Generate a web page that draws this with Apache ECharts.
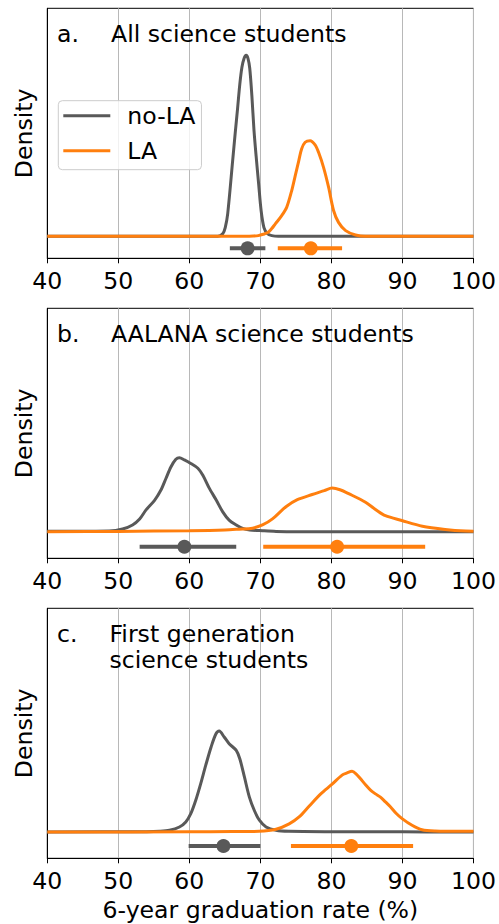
<!DOCTYPE html>
<html>
<head>
<meta charset="utf-8">
<script src="https://cdn.jsdelivr.net/npm/echarts@6/dist/echarts.min.js"></script>
<style>html,body{margin:0;padding:0;background:#fff}#c{width:499px;height:924px}</style>
</head>
<body>
<div id="c"></div>
<script>
// ---------- data ----------
const xTicks = [40, 50, 60, 70, 80, 90, 100];
const panelLetters = ['a.', 'b.', 'c.'];
const panelTitles = [['All science students'], ['AALANA science students'], ['First generation', 'science students']];
const seriesNames = ['no-LA', 'LA'];
const xLabel = '6-year graduation rate (%)';
const yLabel = 'Density';

// density curves [rate, density]
const aNoLA = [[40,0],[64,0],[64.7,0.005],[65.05,0.017],[65.4,0.044],[66.1,0.147],[66.45,0.199],[66.8,0.249],[67.1,0.294],[67.4,0.327],[67.7,0.344],[68.0,0.350],[68.25,0.344],[68.5,0.325],[68.8,0.272],[69.1,0.205],[69.4,0.155],[69.75,0.102],[70.1,0.050],[70.5,0.017],[71.0,0.005],[71.6,0.0014],[72.5,0],[100,0]];
const aLA = [[40,0],[68,0],[69,0.0005],[69.7,0.0014],[70.4,0.004],[71.1,0.0077],[71.6,0.015],[72.1,0.024],[73.0,0.040],[73.7,0.056],[74.4,0.088],[74.9,0.117],[75.4,0.146],[75.8,0.169],[76.3,0.182],[77.0,0.185],[77.7,0.177],[78.2,0.162],[78.9,0.133],[79.6,0.095],[80.3,0.050],[81.0,0.027],[82.0,0.011],[83.4,0.0025],[84.8,0],[100,0]];
const bNoLA = [[40,0.0006],[45,0.0008],[48.7,0.0011],[50.6,0.0042],[52.0,0.0105],[53.0,0.0198],[53.9,0.034],[55.1,0.049],[56.0,0.065],[56.7,0.083],[57.4,0.101],[58.1,0.113],[58.6,0.1155],[59.3,0.112],[60.2,0.1065],[61.2,0.099],[61.9,0.088],[62.8,0.068],[63.8,0.049],[64.7,0.031],[65.6,0.018],[66.6,0.0105],[67.5,0.0052],[68.5,0.0027],[70.3,0.0015],[72.2,0.0005],[75,0],[100,0]];
const bLA = [[40,0],[50,0.0005],[60,0.0016],[65,0.0027],[67.0,0.004],[68.9,0.0055],[70.3,0.0105],[71.7,0.020],[73.6,0.039],[75.2,0.050],[77.3,0.058],[79.0,0.064],[80.1,0.068],[81.2,0.0655],[82.5,0.059],[84.8,0.046],[86.3,0.034],[87.6,0.025],[89.9,0.0175],[92.8,0.0086],[96.0,0.0036],[98.9,0.001],[100,0.0008]];
const cNoLA = [[40,0],[54,0.0006],[55.8,0.0013],[57.2,0.0032],[58.6,0.0093],[59.5,0.0186],[60.2,0.034],[60.9,0.059],[61.6,0.090],[62.3,0.124],[63.05,0.158],[63.75,0.183],[64.2,0.188],[64.9,0.177],[65.6,0.1645],[66.6,0.152],[67.1,0.1365],[67.75,0.1025],[68.45,0.065],[69.15,0.040],[69.86,0.022],[70.8,0.0093],[72.2,0.0032],[74,0.0013],[80,0.0006],[90,0.0004],[97,0],[100,0]];
const cLA = [[40,0],[60,0.0004],[66,0.0007],[69.8,0.0013],[72.2,0.005],[74.05,0.015],[75.45,0.028],[76.85,0.048],[78.5,0.071],[80.1,0.089],[81.5,0.106],[82.2,0.110],[82.9,0.113],[83.5,0.108],[84.1,0.099],[84.8,0.088],[85.5,0.078],[86.2,0.071],[86.9,0.065],[87.6,0.056],[88.3,0.047],[89.1,0.035],[89.95,0.025],[91.35,0.0125],[92.75,0.0043],[94.6,0.0019],[97,0.0015],[100,0.0013]];

// point estimates with intervals [low, mean, high]
const aNoLAEst = [65.7, 68.2, 70.7];
const aLAEst = [72.45, 77.1, 81.5];
const bNoLAEst = [53.0, 59.3, 66.6];
const bLAEst = [70.4, 80.8, 93.2];
const cNoLAEst = [59.9, 64.8, 70.0];
const cLAEst = [74.3, 82.8, 91.5];

// ---------- build ----------
const curves = [[aNoLA, aLA], [bNoLA, bLA], [cNoLA, cLA]];
const ests = [[aNoLAEst, aLAEst], [bNoLAEst, bLAEst], [cNoLAEst, cLAEst]];
const yRanges = [[-0.0425, 0.441], [-0.0415, 0.3485], [-0.049, 0.4167]];
const estY = [-0.0232, -0.0234, -0.026];
const gridTops = [8.3, 308.3, 608.3];
const colors = ['#595959', '#ff7f0e'];
const FONT = 'DejaVu Sans';
const FS = 23.6;

const grids = [], xAxes = [], yAxes = [], series = [], graphics = [];
for (let i = 0; i < 3; i++) {
  grids.push({left: 47.3, width: 427.7, top: gridTops[i], height: 250, show: true,
    borderColor: '#000', borderWidth: 1, backgroundColor: 'transparent', containLabel: false});
  xAxes.push({type: 'value', gridIndex: i, min: xTicks[0], max: xTicks[xTicks.length - 1], interval: 10,
    axisLine: {show: true, onZero: false, lineStyle: {color: '#000', width: 1}},
    axisTick: {show: true, length: 5, lineStyle: {color: '#000', width: 1}},
    axisLabel: {fontSize: FS, fontFamily: FONT, color: '#000', margin: 11.5, lineHeight: 23},
    splitLine: {show: true, lineStyle: {color: '#b8b8b8', width: 1}},
    name: i === 2 ? xLabel : '', nameLocation: 'middle', nameGap: 40.5,
    nameTextStyle: {fontSize: FS, fontFamily: FONT, color: '#000', lineHeight: 23}});
  yAxes.push({type: 'value', gridIndex: i, min: yRanges[i][0], max: yRanges[i][1],
    axisLine: {show: true, lineStyle: {color: '#000', width: 1}},
    axisTick: {show: false}, axisLabel: {show: false}, splitLine: {show: false},
    name: yLabel, nameLocation: 'middle', nameRotate: 90, nameGap: 11.5,
    nameTextStyle: {fontSize: FS, fontFamily: FONT, color: '#000', lineHeight: 23}});
  for (let k = 0; k < 2; k++) {
    series.push({type: 'line', name: seriesNames[k], xAxisIndex: i, yAxisIndex: i,
      data: curves[i][k], showSymbol: false, symbol: 'none', smooth: 0.3, z: 2 + k,
      itemStyle: {color: colors[k]}, lineStyle: {color: colors[k], width: 3}, animation: false});
  }
  for (let k = 0; k < 2; k++) {
    const e = ests[i][k];
    series.push({type: 'line', name: seriesNames[k] + ' interval', xAxisIndex: i, yAxisIndex: i,
      data: [[e[0], estY[i]], [e[2], estY[i]]], showSymbol: false, symbol: 'none', z: 5,
      itemStyle: {color: colors[k]}, lineStyle: {color: colors[k], width: 4}, animation: false});
    series.push({type: 'scatter', name: seriesNames[k] + ' estimate', xAxisIndex: i, yAxisIndex: i,
      data: [[e[1], estY[i]]], symbolSize: 14, z: 6,
      itemStyle: {color: colors[k], opacity: 1}, animation: false});
  }
  graphics.push({type: 'text', z: 10, style: {text: panelLetters[i], x: 57, y: gridTops[i] + 25.2,
    fontSize: FS, fontFamily: FONT, fill: '#000', verticalAlign: 'middle', align: 'left'}});
  panelTitles[i].forEach((t, j) => {
    graphics.push({type: 'text', z: 10, style: {text: t, x: i === 2 ? 109.5 : 111, y: gridTops[i] + 25.2 + j * 26.7,
      fontSize: FS, fontFamily: FONT, fill: '#000', verticalAlign: 'middle', align: 'left'}});
  });
}

const chart = echarts.init(document.getElementById('c'), null, {renderer: 'svg'});
chart.setOption({
  animation: false,
  grid: grids, xAxis: xAxes, yAxis: yAxes, series: series, graphic: graphics,
  legend: {data: seriesNames, orient: 'vertical', left: 58.3, top: 100.7, icon: 'rect',
    itemWidth: 47, itemHeight: 3, itemGap: 11, padding: [3, 6, 7, 5],
    backgroundColor: 'rgba(255,255,255,0.8)', borderColor: '#cccccc', borderWidth: 1, borderRadius: 4,
    textStyle: {fontSize: FS, fontFamily: FONT, color: '#000', lineHeight: 23, padding: [0, 0, 0, 12]},
    selectedMode: false}
});
</script>
</body>
</html>
